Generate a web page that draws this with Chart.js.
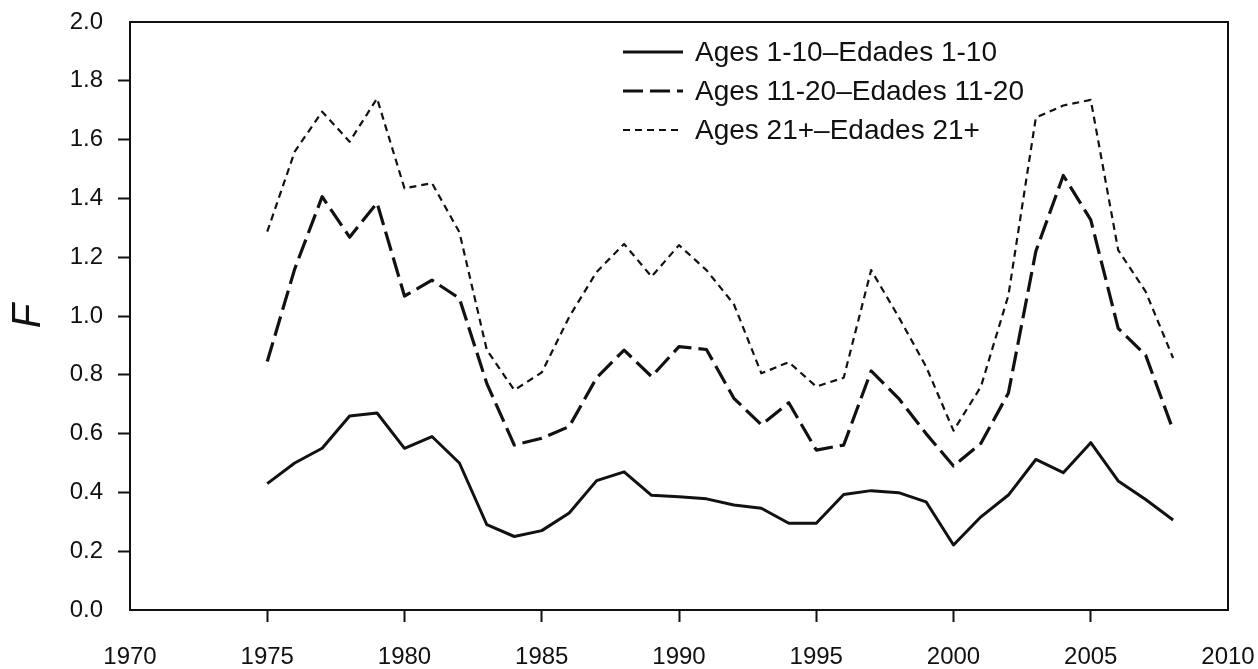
<!DOCTYPE html>
<html>
<head>
<meta charset="utf-8">
<script src="https://cdn.jsdelivr.net/npm/chart.js@4"></script>
<style>
    body { margin: 0; background: #fff; }
    #wrap { position: relative; width: 1258px; height: 669px; }
    #legend { position: absolute; left: 623px; top: 36px; font-family: 'Liberation Sans', Arial, sans-serif; font-size: 28px; color: #111; }
    .row { display: flex; align-items: center; height: 32px; margin-bottom: 7px; }
    .row svg { width: 60px; height: 6px; margin-right: 12px; }
</style>
</head>
<body>
<div id="wrap">
    <canvas id="chart" width="1258" height="669"></canvas>
    <div id="legend"></div>
</div>
<script>
const years = [1975, 1976, 1977, 1978, 1979, 1980, 1981, 1982, 1983, 1984, 1985, 1986,
    1987, 1988, 1989, 1990, 1991, 1992, 1993, 1994, 1995, 1996, 1997, 1998,
    1999, 2000, 2001, 2002, 2003, 2004, 2005, 2006, 2007, 2008];

const ages1to10 = [0.43, 0.50, 0.55, 0.66, 0.67, 0.55, 0.59, 0.50, 0.29, 0.25, 0.27, 0.33,
    0.44, 0.47, 0.39, 0.385, 0.378, 0.357, 0.346, 0.295, 0.295, 0.393, 0.406, 0.399,
    0.368, 0.221, 0.317, 0.391, 0.512, 0.467, 0.569, 0.439, 0.376, 0.306];

const ages11to20 = [0.845, 1.16, 1.406, 1.268, 1.385, 1.068, 1.122, 1.06, 0.77, 0.561, 0.584, 0.624,
    0.79, 0.884, 0.794, 0.896, 0.886, 0.72, 0.63, 0.705, 0.544, 0.561, 0.813, 0.72,
    0.60, 0.49, 0.567, 0.738, 1.22, 1.478, 1.327, 0.958, 0.867, 0.612];

const ages21plus = [1.287, 1.559, 1.695, 1.593, 1.74, 1.434, 1.452, 1.285, 0.884, 0.748, 0.808, 0.997,
    1.15, 1.245, 1.134, 1.241, 1.156, 1.04, 0.805, 0.843, 0.76, 0.79, 1.156, 0.997,
    0.828, 0.61, 0.76, 1.07, 1.675, 1.716, 1.735, 1.224, 1.083, 0.857];

const seriesLabels = ['Ages 1-10\u2013Edades 1-10', 'Ages 11-20\u2013Edades 11-20', 'Ages 21+\u2013Edades 21+'];
const yTicks = [0, 0.2, 0.4, 0.6, 0.8, 1.0, 1.2, 1.4, 1.6, 1.8, 2.0];
const xTicks = [1970, 1975, 1980, 1985, 1990, 1995, 2000, 2005, 2010];

const dashes = [[], [20, 7], [7, 5]];
const widths = [3, 3.2, 2.2];

function points(values) {
    return values.map((v, i) => ({ x: years[i], y: v }));
}

// hide the tick marks at the ends of an axis, like the original
function innerTick(ctx) {
    const n = ctx.scale.ticks.length;
    return (ctx.index === 0 || ctx.index === n - 1) ? 'rgba(0,0,0,0)' : '#111';
}

const frame = {
    id: 'frame',
    afterDraw(chart) {
        const a = chart.chartArea;
        const c = chart.ctx;
        c.save();
        c.strokeStyle = '#111';
        c.lineWidth = 2;
        c.strokeRect(a.left, a.top, a.right - a.left, a.bottom - a.top);
        c.restore();
    }
};

function drawChart() {
    const ctx = document.getElementById('chart');
    const tickFont = { family: "'Liberation Sans', Arial, sans-serif", size: 24 };

    new Chart(ctx, {
        type: 'line',
        data: {
            datasets: [ages1to10, ages11to20, ages21plus].map((vals, i) => ({
                label: seriesLabels[i],
                data: points(vals),
                borderColor: '#111',
                backgroundColor: '#111',
                borderWidth: widths[i],
                borderDash: dashes[i],
                pointRadius: 0,
                tension: 0,
                borderJoinStyle: 'round'
            }))
        },
        options: {
            responsive: false,
            animation: false,
            devicePixelRatio: 1,
            layout: { padding: { left: 0, right: 30, top: 22, bottom: 0 } },
            plugins: {
                legend: { display: false },
                tooltip: { enabled: false }
            },
            scales: {
                x: {
                    type: 'linear',
                    min: 1970,
                    max: 2010,
                    afterBuildTicks: scale => { scale.ticks = xTicks.map(v => ({ value: v })); },
                    ticks: {
                        font: tickFont,
                        color: '#111',
                        padding: 21,
                        maxRotation: 0,
                        callback: v => String(v)
                    },
                    grid: { drawOnChartArea: false, tickLength: 12, tickWidth: 2, tickColor: innerTick },
                    border: { display: false },
                    afterFit: scale => {
                        scale.height = 59;
                        scale.paddingLeft = 0;
                        scale.paddingRight = 0;
                    }
                },
                y: {
                    min: 0,
                    max: 2,
                    afterBuildTicks: scale => { scale.ticks = yTicks.map(v => ({ value: v })); },
                    ticks: {
                        font: tickFont,
                        color: '#111',
                        padding: 15,
                        callback: v => v.toFixed(1)
                    },
                    grid: { drawOnChartArea: false, tickLength: 12, tickWidth: 2, tickColor: innerTick },
                    border: { display: false },
                    title: {
                        display: true,
                        text: 'F',
                        color: '#111',
                        font: { family: "'Liberation Sans', Arial, sans-serif", size: 40, style: 'italic' },
                        padding: { top: 5, bottom: 0 }
                    },
                    afterFit: scale => {
                        scale.width = 130;
                        scale.paddingTop = 0;
                        scale.paddingBottom = 0;
                    }
                }
            }
        },
        plugins: [frame]
    });
}

function drawLegend() {
    const box = document.getElementById('legend');
    seriesLabels.forEach((label, i) => {
        const row = document.createElement('div');
        row.className = 'row';
        const dash = dashes[i].length ? dashes[i].join(' ') : 'none';
        row.innerHTML = '<svg viewBox="0 0 60 6"><line x1="0" y1="3" x2="60" y2="3" stroke="#111" stroke-width="' +
            widths[i] + '" stroke-dasharray="' + dash + '"/></svg><span>' + label + '</span>';
        box.appendChild(row);
    });
}

drawChart();
drawLegend();
</script>
</body>
</html>
